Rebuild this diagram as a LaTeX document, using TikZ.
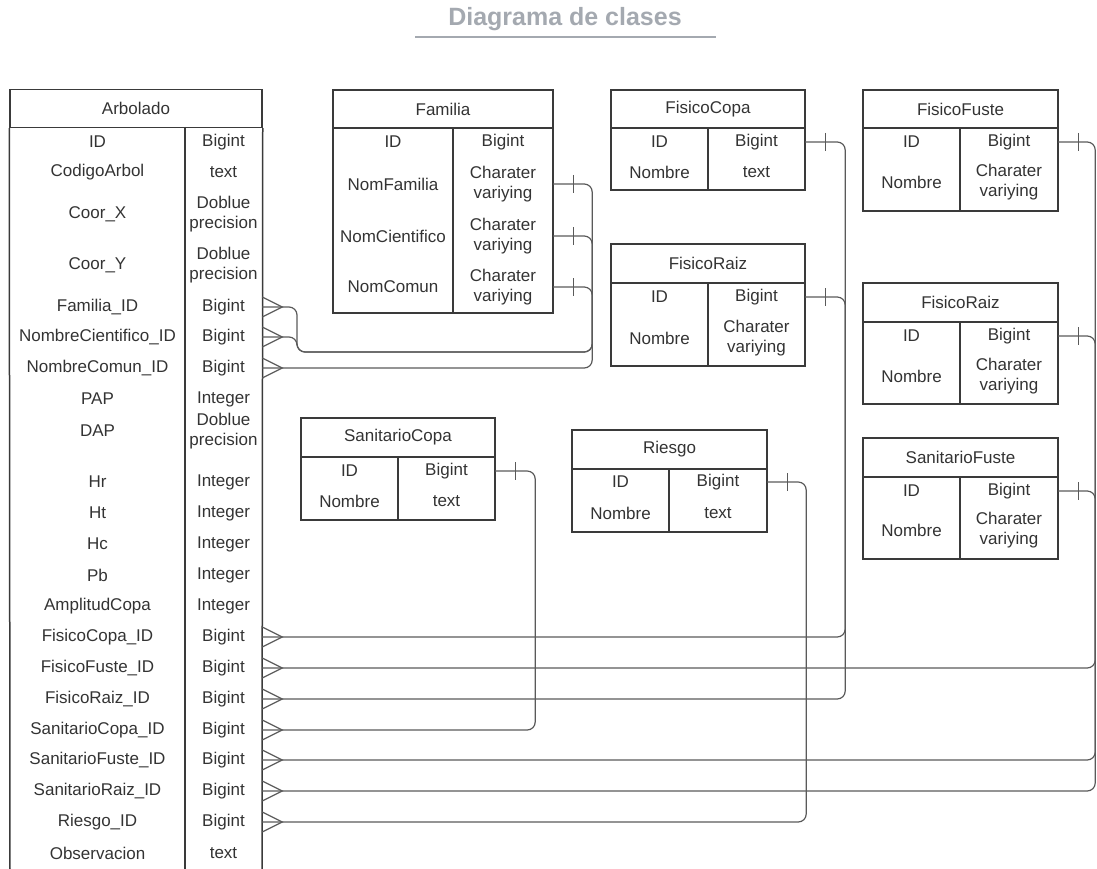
\documentclass[tikz,border=0pt]{standalone}
\usepackage{fontspec}
\setmainfont{Liberation Sans}
\usetikzlibrary{calc}
\definecolor{inkgray}{RGB}{51,51,51}
\definecolor{framegray}{RGB}{58,58,58}
\definecolor{wiregray}{RGB}{90,90,90}
\definecolor{titlegray}{RGB}{164,169,176}

\begin{document}
\begin{tikzpicture}[x=1pt, y=-1pt,
  every node/.style={font=\fontsize{17}{20}\selectfont, text=inkgray},
  tabhead/.style={draw=framegray, line width=1.5pt, minimum height=38pt, inner sep=0pt},
  tabbody/.style={draw=framegray, line width=1.5pt, inner sep=0pt},
  tabline/.style={draw=framegray, line width=1.5pt},
  cell/.style={inner sep=0pt, align=center},
  link/.style={draw=wiregray, line width=1.2pt, rounded corners=8pt},
  crowfoot/.pic={\draw[wiregray, line width=1.2pt] (0,-10) -- (20,0) -- (0,10);},
  onebar/.pic={\draw[wiregray, line width=1.2pt] (20,-9) -- (20,9);}]
  \useasboundingbox (0,0) rectangle (1097,869);

  % title
  \node[anchor=base, font=\fontsize{25}{29}\selectfont\bfseries, text=titlegray] (title) at (565,26) {Diagrama de clases};
  \draw[titlegray, line width=2pt] (title.base) ++(-150,11) -- ++(301,0);

  % Arbolado
  \node[tabhead, minimum width=252pt] (arbHead) at (136,108.5) {Arbolado};
  \draw[tabline] (arbHead.south west) -- (10,869);
  \draw[tabline] (arbHead.south east) -- (262,869);
  \draw[tabline] (185,127) -- (185,869);
  \foreach \y/\f/\t/\n in {142/ID/Bigint/arbId, 172/CodigoArbol/text/arbCod,
      214/Coor\_X/{Doblue\\precision}/arbX, 265/Coor\_Y/{Doblue\\precision}/arbY,
      307/Familia\_ID/Bigint/arbFam, 337/NombreCientifico\_ID/Bigint/arbCie,
      368/NombreComun\_ID/Bigint/arbCom, 399/PAP/Integer/arbPap,
      431/DAP/{Doblue\\precision}/arbDap, 482/Hr/Integer/arbHr, 513/Ht/Integer/arbHt,
      544/Hc/Integer/arbHc, 575/Pb/Integer/arbPb, 606/AmplitudCopa/Integer/arbAmp,
      637/FisicoCopa\_ID/Bigint/arbFCopa, 668/FisicoFuste\_ID/Bigint/arbFFuste,
      699/FisicoRaiz\_ID/Bigint/arbFRaiz, 730/SanitarioCopa\_ID/Bigint/arbSCopa,
      760/SanitarioFuste\_ID/Bigint/arbSFuste, 791/SanitarioRaiz\_ID/Bigint/arbSRaiz,
      822/Riesgo\_ID/Bigint/arbRiesgo, 853/Observacion/text/arbObs} {
    \node[cell, minimum width=175pt] (f\n) at (97.5,\y) {\f};
    \node[cell, minimum width=77pt] (\n) at (223.5,\y) {\t};
  }

  % Familia
  \node[tabhead, minimum width=220pt] (famHead) at (443,109) {Familia};
  \node[tabbody, minimum width=220pt, minimum height=185pt] (famBody) at (443,220.5) {};
  \node[cell, minimum width=120pt] at (393,142) {ID};
  \node[cell, minimum width=100pt] (famId) at (503,142) {Bigint};
  \node[cell, minimum width=120pt] at (393,184) {NomFamilia};
  \node[cell, minimum width=100pt] (famFam) at (503,184) {Charater\\variying};
  \node[cell, minimum width=120pt] at (393,236) {NomCientifico};
  \node[cell, minimum width=100pt] (famCie) at (503,236) {Charater\\variying};
  \node[cell, minimum width=120pt] at (393,287) {NomComun};
  \node[cell, minimum width=100pt] (famCom) at (503,287) {Charater\\variying};
  \draw[tabline] (famBody.north -| famId.west) -- (famBody.south -| famId.west);

  % FisicoCopa
  \node[tabhead, minimum width=194pt] (fcopaHead) at (708,109) {FisicoCopa};
  \node[tabbody, minimum width=194pt, minimum height=62pt] (fcopaBody) at (708,159) {};
  \node[cell, minimum width=97pt] at (659.5,142) {ID};
  \node[cell, minimum width=97pt] (fcopaId) at (756.5,142) {Bigint};
  \node[cell, minimum width=97pt] at (659.5,172) {Nombre};
  \node[cell, minimum width=97pt] at (756.5,172) {text};
  \draw[tabline] (fcopaBody.north -| fcopaId.west) -- (fcopaBody.south -| fcopaId.west);

  % FisicoFuste
  \node[tabhead, minimum width=195pt] (ffusteHead) at (960.5,109) {FisicoFuste};
  \node[tabbody, minimum width=195pt, minimum height=83pt] (ffusteBody) at (960.5,169.5) {};
  \node[cell, minimum width=97pt] at (911.5,142) {ID};
  \node[cell, minimum width=98pt] (ffusteId) at (1009,142) {Bigint};
  \node[cell, minimum width=97pt] at (911.5,182) {Nombre};
  \node[cell, minimum width=98pt] at (1009,182) {Charater\\variying};
  \draw[tabline] (ffusteBody.north -| ffusteId.west) -- (ffusteBody.south -| ffusteId.west);

  % FisicoRaiz (centre)
  \node[tabhead, minimum width=194pt, minimum height=39pt] (fraizAHead) at (708,263.5) {FisicoRaiz};
  \node[tabbody, minimum width=194pt, minimum height=83pt] (fraizABody) at (708,324.5) {};
  \node[cell, minimum width=97pt] at (659.5,297) {ID};
  \node[cell, minimum width=97pt] (fraizAId) at (756.5,297) {Bigint};
  \node[cell, minimum width=97pt] at (659.5,338) {Nombre};
  \node[cell, minimum width=97pt] at (756.5,338) {Charater\\variying};
  \draw[tabline] (fraizABody.north -| fraizAId.west) -- (fraizABody.south -| fraizAId.west);

  % FisicoRaiz (right)
  \node[tabhead, minimum width=195pt, minimum height=39pt] (fraizBHead) at (960.5,302.5) {FisicoRaiz};
  \node[tabbody, minimum width=195pt, minimum height=82pt] (fraizBBody) at (960.5,363) {};
  \node[cell, minimum width=97pt] at (911.5,336) {ID};
  \node[cell, minimum width=98pt] (fraizBId) at (1009,336) {Bigint};
  \node[cell, minimum width=97pt] at (911.5,376) {Nombre};
  \node[cell, minimum width=98pt] at (1009,376) {Charater\\variying};
  \draw[tabline] (fraizBBody.north -| fraizBId.west) -- (fraizBBody.south -| fraizBId.west);

  % SanitarioCopa
  \node[tabhead, minimum width=194pt, minimum height=39pt] (scopaHead) at (398,437.5) {SanitarioCopa};
  \node[tabbody, minimum width=194pt, minimum height=63pt] (scopaBody) at (398,488.5) {};
  \node[cell, minimum width=97pt] at (349.5,471) {ID};
  \node[cell, minimum width=97pt] (scopaId) at (446.5,471) {Bigint};
  \node[cell, minimum width=97pt] at (349.5,501) {Nombre};
  \node[cell, minimum width=97pt] at (446.5,501) {text};
  \draw[tabline] (scopaBody.north -| scopaId.west) -- (scopaBody.south -| scopaId.west);

  % Riesgo
  \node[tabhead, minimum width=195pt, minimum height=39pt] (riesgoHead) at (669.5,449.5) {Riesgo};
  \node[tabbody, minimum width=195pt, minimum height=63pt] (riesgoBody) at (669.5,500.5) {};
  \node[cell, minimum width=97pt] at (620.5,482) {ID};
  \node[cell, minimum width=98pt] (riesgoId) at (718,482) {Bigint};
  \node[cell, minimum width=97pt] at (620.5,513) {Nombre};
  \node[cell, minimum width=98pt] at (718,513) {text};
  \draw[tabline] (riesgoBody.north -| riesgoId.west) -- (riesgoBody.south -| riesgoId.west);

  % SanitarioFuste
  \node[tabhead, minimum width=195pt, minimum height=39pt] (sfusteHead) at (960.5,457.5) {SanitarioFuste};
  \node[tabbody, minimum width=195pt, minimum height=82pt] (sfusteBody) at (960.5,518) {};
  \node[cell, minimum width=97pt] at (911.5,491) {ID};
  \node[cell, minimum width=98pt] (sfusteId) at (1009,491) {Bigint};
  \node[cell, minimum width=97pt] at (911.5,530) {Nombre};
  \node[cell, minimum width=98pt] at (1009,530) {Charater\\variying};
  \draw[tabline] (sfusteBody.north -| sfusteId.west) -- (sfusteBody.south -| sfusteId.west);

  % relations
  \coordinate (famjoin) at (297,352);
  \draw[link] (famFam.east) -- ++(39,0) |- (famjoin) |- (arbFam.east);
  \draw[link] (famCie.east) -- ++(39,0) |- (famjoin) |- (arbCie.east);
  \pic at (famFam.east) {onebar};
  \pic at (famCie.east) {onebar};
  \pic at (arbFam.east) {crowfoot};
  \pic at (arbCie.east) {crowfoot};
  \foreach \src/\dst/\dx in {famCom/arbCom/39, fcopaId/arbFCopa/40, ffusteId/arbFFuste/37,
      fraizAId/arbFRaiz/40, scopaId/arbSCopa/40, sfusteId/arbSFuste/37,
      fraizBId/arbSRaiz/37, riesgoId/arbRiesgo/39} {
    \draw[link] (\src.east) -- ++(\dx,0) |- (\dst.east);
    \pic at (\src.east) {onebar};
    \pic at (\dst.east) {crowfoot};
  }
\end{tikzpicture}
\end{document}
